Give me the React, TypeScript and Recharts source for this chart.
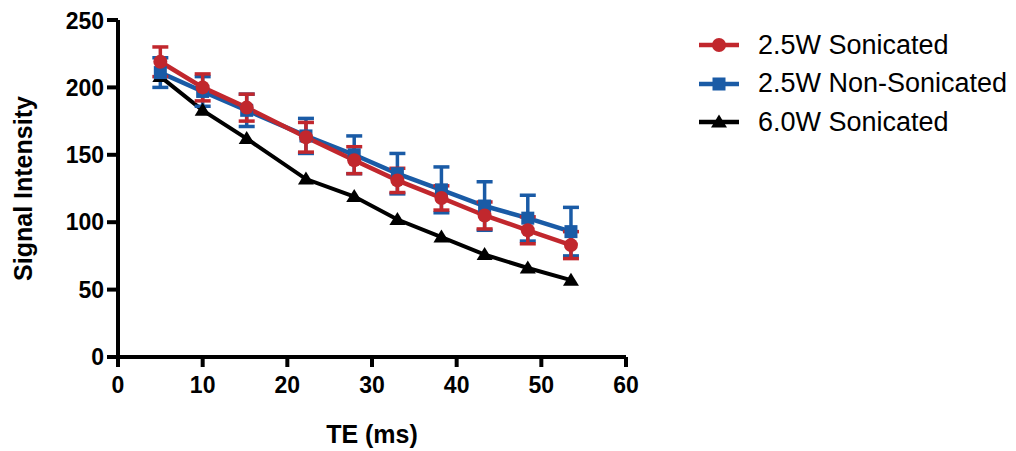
import React from "react";
import { LineChart, Line, XAxis, YAxis, ErrorBar } from "recharts";

const teMs = [5, 10, 15.2, 22.2, 27.9, 33, 38.2, 43.3, 48.4, 53.5];
const sonicated25 = [219, 200, 185, 163, 146, 131, 118, 105, 94, 83];
const sonicated25Err = [11, 10, 10, 11, 10, 9, 9, 10, 10, 10];
const nonSonicated25 = [211, 197, 183, 164, 150, 136, 124, 112, 103, 93];
const nonSonicated25Err = [11, 11, 12, 13, 14, 15, 17, 18, 17, 18];
const sonicated60 = [208, 183, 162, 132, 119, 102, 89, 76, 66, 57];

const xTicks = [0, 10, 20, 30, 40, 50, 60];
const yTicks = [0, 50, 100, 150, 200, 250];

const RED = "#C1272D";
const BLUE = "#1A5BA6";
const BLACK = "#000000";
const FONT = "'Liberation Sans', Arial, Helvetica, sans-serif";

const data = teMs.map((te, i) => ({
  te,
  s25: sonicated25[i],
  s25Err: sonicated25Err[i],
  n25: nonSonicated25[i],
  n25Err: nonSonicated25Err[i],
  s60: sonicated60[i],
}));

const legendItems = [
  { name: "2.5W Sonicated", color: RED, shape: "circle" },
  { name: "2.5W Non-Sonicated", color: BLUE, shape: "square" },
  { name: "6.0W Sonicated", color: BLACK, shape: "triangle" },
];

function Marker({ shape, cx, cy, color }: { shape: string; cx: number; cy: number; color: string }) {
  if (shape === "circle") return <circle cx={cx} cy={cy} r={7} fill={color} />;
  if (shape === "square")
    return <rect x={cx - 6.5} y={cy - 6.5} width={13} height={13} fill={color} />;
  return (
    <polygon
      points={`${cx},${cy - 7.5} ${cx + 8},${cy + 5.5} ${cx - 8},${cy + 5.5}`}
      fill={color}
    />
  );
}

const dotFor = (shape: string, color: string) => (props: any) => {
  const { cx, cy, index } = props;
  return <Marker key={`${shape}-${index}`} shape={shape} cx={cx} cy={cy} color={color} />;
};

const tickStyle = { fontFamily: FONT, fontSize: 23, fontWeight: 700, fill: "#000" };
const titleStyle = { fontFamily: FONT, fontSize: 25, fontWeight: 700, fill: "#000" };

export default function App() {
  return (
    <div style={{ position: "relative", width: 1008, height: 443 }}>
      <LineChart
        width={1008}
        height={443}
        data={data}
        margin={{ top: 12, right: 390, bottom: 0, left: 0 }}
      >
        <XAxis
          dataKey="te"
          type="number"
          domain={[0, 60]}
          ticks={xTicks}
          height={94}
          tickSize={10}
          tickMargin={10}
          axisLine={{ stroke: "#000", strokeWidth: 4 }}
          tickLine={{ stroke: "#000", strokeWidth: 4 }}
          tick={tickStyle}
          label={{
            value: "TE (ms)",
            position: "insideBottom",
            offset: 8,
            style: titleStyle,
          }}
        />
        <YAxis
          type="number"
          domain={[0, 250]}
          ticks={yTicks}
          width={110}
          tickSize={11}
          tickMargin={3}
          axisLine={{ stroke: "#000", strokeWidth: 4 }}
          tickLine={{ stroke: "#000", strokeWidth: 4 }}
          tick={tickStyle}
          label={{
            value: "Signal Intensity",
            angle: -90,
            position: "insideLeft",
            offset: 15,
            style: { ...titleStyle, textAnchor: "middle" },
          }}
        />
        <Line
          dataKey="s60"
          stroke={BLACK}
          strokeWidth={4}
          dot={dotFor("triangle", BLACK)}
          isAnimationActive={false}
        />
        <Line
          dataKey="n25"
          stroke={BLUE}
          strokeWidth={4.5}
          dot={dotFor("square", BLUE)}
          isAnimationActive={false}
        >
          <ErrorBar dataKey="n25Err" direction="y" width={8} strokeWidth={3.5} stroke={BLUE} />
        </Line>
        <Line
          dataKey="s25"
          stroke={RED}
          strokeWidth={4.5}
          dot={dotFor("circle", RED)}
          isAnimationActive={false}
        >
          <ErrorBar dataKey="s25Err" direction="y" width={8} strokeWidth={3.5} stroke={RED} />
        </Line>
      </LineChart>
      <div style={{ position: "absolute", left: 691, top: 18, fontFamily: FONT, fontSize: 27 }}>
        {legendItems.map((item) => (
          <div key={item.name} style={{ display: "flex", alignItems: "center", height: 38.5 }}>
            <svg width={59} height={20} style={{ flexShrink: 0 }}>
              <line x1={0} y1={10} x2={40} y2={10} stroke={item.color} strokeWidth={4.5} />
              <Marker shape={item.shape} cx={20} cy={10} color={item.color} />
            </svg>
            <span style={{ color: "#000", whiteSpace: "nowrap" }}>{item.name}</span>
          </div>
        ))}
      </div>
    </div>
  );
}
